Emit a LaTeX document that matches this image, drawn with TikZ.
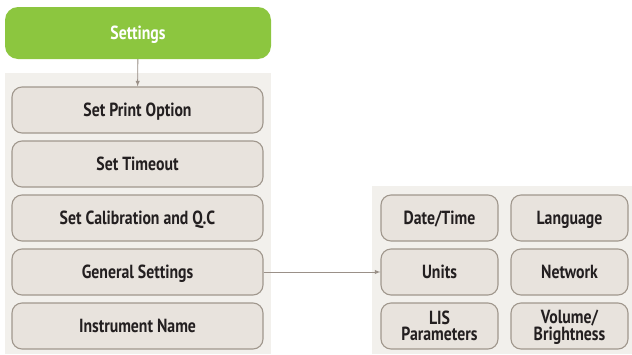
\documentclass[tikz,border=0pt]{standalone}
\usepackage{fontspec}
\setmainfont{PT Sans}
\newfontfamily\menuFont[FakeStretch=0.83]{PT Sans}
\usetikzlibrary{arrows, positioning}
\definecolor{headGreen}{HTML}{8CC63F}
\definecolor{panelGray}{HTML}{F2F0EC}
\definecolor{itemFill}{HTML}{E8E3DD}
\definecolor{itemLine}{HTML}{A0978D}
\definecolor{linkGray}{HTML}{9A9088}
\definecolor{itemText}{HTML}{231F20}
\tikzset{
    menuHead/.style={rectangle, rounded corners=13pt, fill=headGreen, text=white, font=\menuFont\bfseries\fontsize{19}{16}\selectfont, minimum width=266pt, minimum height=52pt, inner sep=0pt, text height=13.3pt, text depth=0pt},
    menuItem/.style={rectangle, rounded corners=10pt, draw=itemLine, line width=1.1pt, fill=itemFill, text=itemText, font=\menuFont\bfseries\fontsize{19}{16}\selectfont, minimum width=251pt, minimum height=46pt, inner sep=0pt, align=center, text height=13.3pt, text depth=0pt},
    subItem/.style={menuItem, minimum width=117pt},
    twoLine/.style={text height=29.3pt, text depth=0pt},
    menuPanel/.style={fill=panelGray},
    menuLink/.style={-latex, draw=linkGray, fill=linkGray, line width=0.9pt},
}

\begin{document}
\begin{tikzpicture}[x=1pt, y=-1pt]
        \useasboundingbox (0,0) rectangle (632,354);
        
        \fill[menuPanel] (5,73) rectangle (271,354);
        \fill[menuPanel] (372,186) rectangle (632,354);
        
        \node[menuHead] (settings) at (138,33) {Settings};
        
        \node[menuItem] (print) at (137.5,110) {Set Print Option};
        \node[menuItem] (timeout) at (137.5,164) {Set Timeout};
        \node[menuItem] (calib) at (137.5,218) {Set Calibration and Q.C};
        \node[menuItem] (general) at (137.5,272) {General Settings};
        \node[menuItem] (instr) at (137.5,326) {Instrument Name};
        
        \node[subItem] (date) at (439.5,218) {Date/Time};
        \node[subItem] (lang) at (569.5,218) {Language};
        \node[subItem] (units) at (439.5,272) {Units};
        \node[subItem] (net) at (569.5,272) {Network};
        \node[subItem, twoLine] (lis) at (439.5,326) {LIS\\Parameters};
        \node[subItem, twoLine] (vol) at (569.5,326) {Volume/\\Brightness};
        
        \draw[menuLink] (settings) -- (print);
        \draw[menuLink] (general) -- (units);
        
    \end{tikzpicture}
\end{document}
